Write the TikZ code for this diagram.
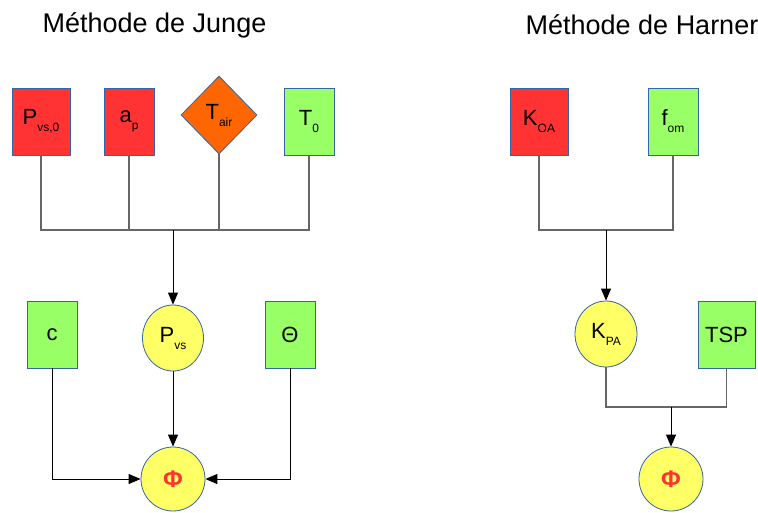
\documentclass[tikz,border=0pt]{standalone}
\usepackage{fontspec}
\setmainfont{Liberation Sans}
\usetikzlibrary{shapes.geometric,arrows.meta}
\definecolor{cred}{HTML}{FF3333}
\definecolor{corange}{HTML}{FF6600}
\definecolor{cgreen}{HTML}{99FF66}
\definecolor{cyellow}{HTML}{FFFF66}
\definecolor{cborder}{HTML}{3465A4}
\definecolor{cline}{HTML}{666666}
\newcommand\subs[1]{\raisebox{-7pt}{\fontsize{12}{12}\selectfont #1}}
\tikzset{
  lbl/.style={font=\fontsize{22}{22}\selectfont, inner sep=0pt, text=black},
  box/.style={lbl, draw=cborder, line width=0.8pt, rectangle, minimum height=67pt},
  redbox/.style={box, fill=cred},
  greenbox/.style={box, fill=cgreen},
  circ/.style={lbl, draw=cborder, line width=0.8pt, ellipse, fill=cyellow},
  wire/.style={draw=cline, line width=1.1pt},
  arr/.style={draw=black, line width=1pt, -{Triangle[length=12pt,width=10pt]}},
  title/.style={font=\fontsize{27}{27}\selectfont, inner sep=0pt}
}
\newcommand\phisym{\textcolor{cred}{\fontsize{24}{24}\selectfont\bfseries Φ}}
\begin{document}
\begin{tikzpicture}[x=1pt,y=-1pt]
\useasboundingbox (0,0) rectangle (758,512);
% titles
\node[title] (t1) at (154.5,25) {Méthode de Junge};
\node[title] (t2) at (642,25) {Méthode de Harner};
% Junge
\node[redbox, minimum width=58pt] (P0) at (41,121.5) {P\subs{vs,0}};
\node[redbox, minimum width=50pt] (ap) at (129,121.5) {a\subs{p}};
\node[lbl, diamond, draw=cborder, line width=0.8pt, fill=corange, minimum width=76pt, minimum height=78pt] (Tair) at (219,115) {T\subs{air}};
\node[greenbox, minimum width=50pt] (T0) at (309,121.5) {T\subs{0}};
\coordinate (j1) at (173,230);
\node[greenbox, minimum width=50pt] (c) at (52,334.5) {c};
\node[circ, minimum width=61pt, minimum height=66pt] (Pvs) at (173,338) {P\subs{vs}};
\node[greenbox, minimum width=50pt] (Th) at (290,334.5) {Θ};
\node[circ, minimum width=64pt, minimum height=64pt] (Phi1) at (173,479) {\phisym};
\draw[wire] (P0.south) |- (j1);
\draw[wire] (T0.south) |- (j1);
\draw[wire] (ap.south) -- (ap.south |- j1);
\draw[wire] (Tair.south) -- (Tair.south |- j1);
\draw[arr] (j1) -- (Pvs.north);
\draw[arr] (Pvs.south) -- (Phi1.north);
\draw[arr] (c.south) |- (Phi1.west);
\draw[arr] (Th.south) |- (Phi1.east);
% Harner
\node[redbox, minimum width=58pt] (KOA) at (539,121.5) {K\subs{OA}};
\node[greenbox, minimum width=50pt] (fom) at (673,121.5) {f\subs{om}};
\coordinate (j2) at (606,230);
\node[circ, minimum width=62pt, minimum height=66pt] (KPA) at (606,334) {K\subs{PA}};
\node[greenbox, minimum width=57pt] (TSP) at (726.5,334.5) {TSP};
\coordinate (j3) at (671,407);
\node[circ, minimum width=64pt, minimum height=64pt] (Phi2) at (671,479) {\phisym};
\draw[wire] (KOA.south) |- (j2);
\draw[wire] (fom.south) |- (j2);
\draw[arr] (j2) -- (KPA.north);
\draw[wire] (KPA.south) |- (j3);
\draw[wire] (TSP.south) |- (j3);
\draw[arr] (j3) -- (Phi2.north);
\end{tikzpicture}
\end{document}
